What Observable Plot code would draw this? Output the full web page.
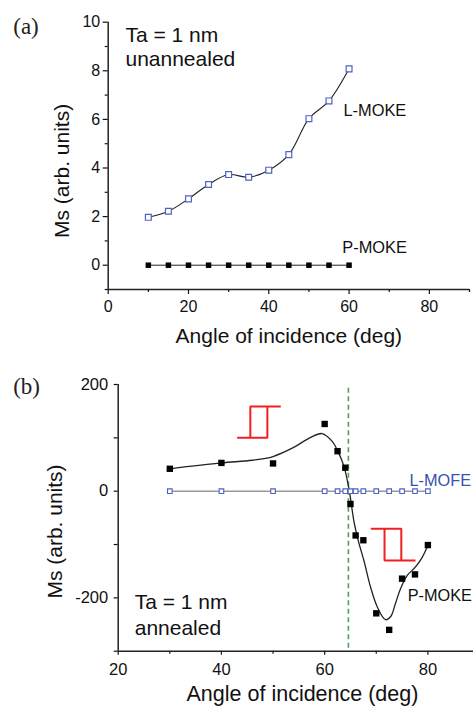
<!DOCTYPE html>
<html><head><meta charset="utf-8">
<script src="https://cdn.jsdelivr.net/npm/d3@7"></script>
<script src="https://cdn.jsdelivr.net/npm/@observablehq/plot@0.6"></script>
<style>
body{margin:0;background:#fff;}
#wrap{position:relative;width:473px;height:707px;overflow:hidden;font-family:"Liberation Sans",Arial,sans-serif;}
#wrap svg{display:block;}
</style></head><body><div id="wrap"></div>
<script>
// ---------- Panel (a): Ta = 1 nm, unannealed ----------
const anglesA = [10, 15, 20, 25, 30, 35, 40, 45, 50, 55, 60];
const lmokeA  = [1.97, 2.22, 2.73, 3.32, 3.73, 3.62, 3.91, 4.55, 6.03, 6.76, 8.08];
const pmokeA  = [0, 0, 0, 0, 0, 0, 0, 0, 0, 0, 0];
const xTicksA = [0, 20, 40, 60, 80];
const xMinorA = [10, 30, 50, 70, 90];
const yTicksA = [0, 2, 4, 6, 8, 10];
const yMinorA = [-1, 1, 3, 5, 7, 9];

// ---------- Panel (b): Ta = 1 nm, annealed ----------
const anglesB = [30, 40, 50, 60, 62.5, 64, 65, 66, 67.5, 70, 72.5, 75, 77.5, 80];
const pmokeB  = [42, 53, 52, 126, 75, 44, -24, -83, -92, -229, -260, -164, -156, -101];
const lmofeB  = [0, 0, 0, 0, 0, 0, 0, 0, 0, 0, 0, 0, 0, 0];
// smooth fit curve
const fitAnglesB = [30, 40, 46, 50, 54, 57.3, 59.5, 61.5, 62.5, 63.7, 64.7, 65.7, 66.6, 67.6, 68.9, 70.2, 71.8, 72.8, 73.7, 74.7, 76, 77.6, 78.9, 80];
const fitValuesB = [42, 53, 58, 65, 82, 101, 108, 93, 76, 48, 5, -58, -96, -130, -180, -217, -241, -235, -211, -183, -158, -142, -124, -102];
const criticalAngleB = [64.6];
// hysteresis-loop sketches (angle, Ms)
const loopUpX = [43.2, 48.9, 48.9, 51.5, 45.6, 45.6];
const loopUpY = [100, 100, 158.8, 158.8, 158.8, 100];
const loopDownX = [69.1, 74.85, 74.85, 77.6, 71.6, 71.6];
const loopDownY = [-70.5, -70.5, -130, -130, -130, -70.5];
const xTicksB = [20, 40, 60, 80];
const xMinorB = [30, 50, 70, 90];
const yTicksB = [200, 0, -200];
const yMinorB = [100, -100, -300];

const sans = "'Liberation Sans', Arial, sans-serif";
const serif = "'Liberation Serif', 'Times New Roman', serif";
const blue = "#4f63c0";
const fmt = d => String(d);

const rowsA = anglesA.map((a, i) => ({angle: a, l: lmokeA[i], p: pmokeA[i]}));
const rowsB = anglesB.map((a, i) => ({angle: a, p: pmokeB[i], l: lmofeB[i]}));
const fitB = fitAnglesB.map((a, i) => ({angle: a, v: fitValuesB[i]}));
const loop1 = loopUpX.map((a, i) => ({angle: a, v: loopUpY[i]}));
const loop2 = loopDownX.map((a, i) => ({angle: a, v: loopDownY[i]}));

const plotA = Plot.plot({
  width: 473, height: 350,
  marginLeft: 107.7, marginRight: 4, marginTop: 21.7, marginBottom: 61,
  x: {domain: [0, 90]},
  y: {domain: [-1, 10]},
  style: {fontFamily: sans, fontSize: "16px", color: "#111", background: "transparent", overflow: "visible"},
  marks: [
    Plot.axisY({ticks: yTicksA, tickSize: 5, tickPadding: 3, tickFormat: fmt, label: null, fontSize: 16, strokeWidth: 1.2}),
    Plot.axisY({ticks: yMinorA, tickSize: 3, text: null, label: null, strokeWidth: 1.2}),
    Plot.axisX({ticks: xTicksA, tickSize: 5, tickPadding: 6, tickFormat: fmt, label: null, fontSize: 16, strokeWidth: 1.2}),
    Plot.axisX({ticks: xMinorA, tickSize: 3, text: null, label: null, strokeWidth: 1.2}),
    Plot.ruleX([0], {y1: -1, y2: 10, stroke: "#222", strokeWidth: 1.5}),
    Plot.ruleY([-1], {x1: 0, x2: 90, stroke: "#222", strokeWidth: 1.5}),
    Plot.line(rowsA, {x: "angle", y: "l", curve: "catmull-rom", stroke: "#222", strokeWidth: 1.1}),
    Plot.line(rowsA, {x: "angle", y: "p", stroke: "#222", strokeWidth: 1}),
    Plot.dot(rowsA, {x: "angle", y: "l", symbol: "square", r: 3.3, fill: "white", stroke: blue, strokeWidth: 1.2}),
    Plot.dot(rowsA, {x: "angle", y: "p", symbol: "square", r: 3.1, fill: "#000", stroke: "none"}),
    Plot.text(["Ta = 1 nm"], {x: 4.3, y: 9.45, textAnchor: "start", lineAnchor: "middle", fontSize: 21, fill: "#111"}),
    Plot.text(["unannealed"], {x: 4.3, y: 8.47, textAnchor: "start", lineAnchor: "middle", fontSize: 21, fill: "#111"}),
    Plot.text(["L-MOKE"], {x: 58.6, y: 6.35, textAnchor: "start", lineAnchor: "middle", fontSize: 16.4, fill: "#111"}),
    Plot.text(["P-MOKE"], {x: 58.3, y: 0.72, textAnchor: "start", lineAnchor: "middle", fontSize: 16.4, fill: "#111"}),
    Plot.text(["Ms (arb. units)"], {x: -11.4, y: 3.88, rotate: -90, textAnchor: "middle", lineAnchor: "middle", fontSize: 21, fill: "#111"}),
    Plot.text(["Angle of incidence (deg)"], {x: 45, y: -2.94, textAnchor: "middle", lineAnchor: "middle", fontSize: 21, fill: "#111"}),
    Plot.text(["(a)"], {x: -23.66, y: 9.82, textAnchor: "start", lineAnchor: "middle", fontSize: 23, fontFamily: serif, fill: "#222"})
  ]
});

const plotB = Plot.plot({
  width: 473, height: 357,
  marginLeft: 117.7, marginRight: 0, marginTop: 34, marginBottom: 56.3,
  x: {domain: [20, 90], range: [117.7, 479]},
  y: {domain: [-300, 200]},
  style: {fontFamily: sans, fontSize: "16.5px", color: "#111", background: "transparent", overflow: "visible"},
  marks: [
    Plot.axisY({ticks: yTicksB, tickSize: 4, tickPadding: 6, tickFormat: fmt, label: null, fontSize: 16.5, strokeWidth: 1.2}),
    Plot.axisY({ticks: yMinorB, tickSize: 4, text: null, label: null, strokeWidth: 1.2}),
    Plot.axisX({ticks: xTicksB, tickSize: 4, tickPadding: 8, tickFormat: fmt, label: null, fontSize: 16.5, strokeWidth: 1.2}),
    Plot.axisX({ticks: xMinorB, tickSize: 3, text: null, label: null, strokeWidth: 1.2}),
    Plot.ruleX([20], {y1: -300, y2: 200, stroke: "#222", strokeWidth: 1.5}),
    Plot.ruleY([-300], {x1: 20, x2: 90, stroke: "#222", strokeWidth: 1.5}),
    Plot.ruleX(criticalAngleB, {y1: 193, y2: -300, stroke: "#4f9f5f", strokeWidth: 1.6, strokeDasharray: "5,3.5"}),
    Plot.line(rowsB, {x: "angle", y: "l", stroke: "#9a9a9a", strokeWidth: 1.5}),
    Plot.line(fitB, {x: "angle", y: "v", curve: "catmull-rom", stroke: "#222", strokeWidth: 1.3}),
    Plot.line(loop1, {x: "angle", y: "v", stroke: "#f02020", strokeWidth: 2, strokeLinejoin: "miter"}),
    Plot.line(loop2, {x: "angle", y: "v", stroke: "#f02020", strokeWidth: 2, strokeLinejoin: "miter"}),
    Plot.dot(rowsB, {x: "angle", y: "l", symbol: "square", r: 2.6, fill: "white", stroke: blue, strokeWidth: 1.1}),
    Plot.dot(rowsB, {x: "angle", y: "p", symbol: "square", r: 3.6, fill: "#000", stroke: "none"}),
    Plot.text(["Ta = 1 nm"], {x: 23.2, y: -208.7, textAnchor: "start", lineAnchor: "middle", fontSize: 21, fill: "#111"}),
    Plot.text(["annealed"], {x: 23.2, y: -257.5, textAnchor: "start", lineAnchor: "middle", fontSize: 21, fill: "#111"}),
    Plot.text(["L-MOFE"], {x: 76.45, y: 19.5, textAnchor: "start", lineAnchor: "middle", fontSize: 16.3, fill: "#3a52b0"}),
    Plot.text(["P-MOKE"], {x: 76.1, y: -196, textAnchor: "start", lineAnchor: "middle", fontSize: 16.3, fill: "#111"}),
    Plot.text(["Ms (arb. units)"], {x: 7.85, y: -75.6, rotate: -90, textAnchor: "middle", lineAnchor: "middle", fontSize: 21, fill: "#111"}),
    Plot.text(["Angle of incidence (deg)"], {x: 55.7, y: -380, textAnchor: "middle", lineAnchor: "middle", fontSize: 21.5, fill: "#111"}),
    Plot.text(["(b)"], {x: -0.35, y: 196.3, textAnchor: "start", lineAnchor: "middle", fontSize: 23, fontFamily: serif, fill: "#222"})
  ]
});

const wrap = document.getElementById("wrap");
wrap.appendChild(plotA);
wrap.appendChild(plotB);
</script>
</body></html>
